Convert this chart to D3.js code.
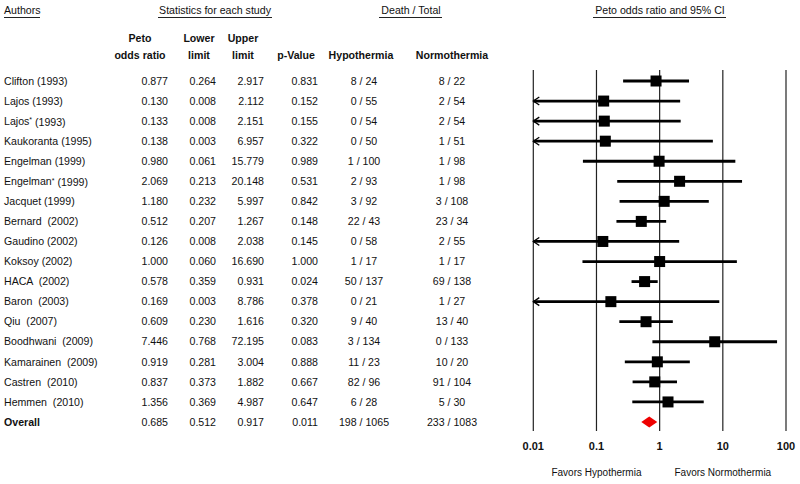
<!DOCTYPE html>
<html><head><meta charset="utf-8">
<script src="https://cdn.jsdelivr.net/npm/d3@7"></script>
<style>
body{margin:0;background:#fff;}
svg{font-family:"Liberation Sans",Arial,sans-serif;}
text{white-space:pre;fill:#111;}
</style></head><body>
<svg id="c" width="800" height="484"></svg>
<script>
const authors = ["Clifton (1993)","Lajos (1993)","Lajos* (1993)","Kaukoranta (1995)","Engelman (1999)","Engelman* (1999)","Jacquet (1999)","Bernard  (2002)","Gaudino (2002)","Koksoy (2002)","HACA  (2002)","Baron  (2003)","Qiu  (2007)","Boodhwani  (2009)","Kamarainen  (2009)","Castren  (2010)","Hemmen  (2010)","Overall"];
const oddsRatio = [0.877,0.130,0.133,0.138,0.980,2.069,1.180,0.512,0.126,1.000,0.578,0.169,0.609,7.446,0.919,0.837,1.356,0.685];
const lower = [0.264,0.008,0.008,0.003,0.061,0.213,0.232,0.207,0.008,0.060,0.359,0.003,0.230,0.768,0.281,0.373,0.369,0.512];
const upper = [2.917,2.112,2.151,6.957,15.779,20.148,5.997,1.267,2.038,16.690,0.931,8.786,1.616,72.195,3.004,1.882,4.987,0.917];
const pValue = [0.831,0.152,0.155,0.322,0.989,0.531,0.842,0.148,0.145,1.000,0.024,0.378,0.320,0.083,0.888,0.667,0.647,0.011];
const hypothermia = ["8 / 24","0 / 55","0 / 54","0 / 50","1 / 100","2 / 93","3 / 92","22 / 43","0 / 58","1 / 17","50 / 137","0 / 21","9 / 40","3 / 134","11 / 23","82 / 96","6 / 28","198 / 1065"];
const normothermia = ["8 / 22","2 / 54","2 / 54","1 / 51","1 / 98","1 / 98","3 / 108","23 / 34","2 / 55","1 / 17","69 / 138","1 / 27","13 / 40","0 / 133","10 / 20","91 / 104","5 / 30","233 / 1083"];
const tickValues = [0.01,0.1,1,10,100];
const tickLabels = ["0.01","0.1","1","10","100"];

const svg = d3.select("#c");
const x = d3.scaleLog().domain([0.01,100]).range([533.3,786]);
const y = d3.scalePoint().domain(d3.range(authors.length)).range([81,422]);
const fmt = d3.format(".3f");
const FS = 10.6;

// top headers
function header(txt, cx, anchor, x1, x2){
  svg.append("text").attr("x",cx).attr("y",10).attr("dy","0.35em").attr("text-anchor",anchor)
    .style("font-size",FS+"px").text(txt);
  svg.append("line").attr("x1",x1).attr("x2",x2).attr("y1",17.5).attr("y2",17.5).attr("stroke","#222").attr("stroke-width",1);
}
header("Authors",4,"start",4,40);
header("Statistics for each study",215,"middle",158,272);
header("Death / Total",411,"middle",379,442);
header("Peto odds ratio and 95% CI",660,"middle",593,726);

// column headers
const colHeads = [
  {l:["Peto","odds ratio"],x:140},
  {l:["Lower","limit"],x:199},
  {l:["Upper","limit"],x:243},
  {l:["","p-Value"],x:296},
  {l:["","Hypothermia"],x:361},
  {l:["","Normothermia"],x:452}
];
colHeads.forEach(h=>{
  h.l.forEach((t,i)=>{
    if(!t) return;
    svg.append("text").attr("x",h.x).attr("y",i?55:38).attr("dy","0.35em").attr("text-anchor","middle")
      .style("font-size",FS+"px").style("font-weight","bold").text(t);
  });
});

// rows
const rows = svg.append("g");
authors.forEach((a,i)=>{
  const yy = y(i);
  const bold = a==="Overall";
  const t = rows.append("text").attr("x",4).attr("y",yy).attr("dy","0.35em").style("font-size",FS+"px")
    .style("font-weight",bold?"bold":"normal");
  const parts = a.split("*");
  t.append("tspan").text(parts[0]);
  if(parts.length>1){
    t.append("tspan").attr("dy","-0.35em").style("font-size","7px").text("*");
    t.append("tspan").attr("dy","0.35em").text(parts[1]);
  }
  const cells = [
    [fmt(oddsRatio[i]),168,"end"],
    [fmt(lower[i]),216,"end"],
    [fmt(upper[i]),264,"end"],
    [fmt(pValue[i]),318,"end"],
    [hypothermia[i],364,"middle"],
    [normothermia[i],452,"middle"]
  ];
  cells.forEach(c=>{
    rows.append("text").attr("x",c[1]).attr("y",yy).attr("dy","0.35em").attr("text-anchor",c[2])
      .style("font-size",FS+"px").text(c[0]);
  });
});

// plot vertical lines
const plot = svg.append("g");
tickValues.forEach((v,i)=>{
  plot.append("line").attr("x1",x(v)).attr("x2",x(v)).attr("y1",70).attr("y2",431)
    .attr("stroke","#222").attr("stroke-width",1.2);
  plot.append("text").attr("x",x(v)).attr("y",446).attr("dy","0.35em").attr("text-anchor","middle")
    .style("font-size","11px").style("font-weight","bold").text(tickLabels[i]);
});
plot.append("text").attr("x",x(0.1)).attr("y",472).attr("dy","0.35em").attr("text-anchor","middle")
  .style("font-size","10px").text("Favors Hypothermia");
plot.append("text").attr("x",x(10)).attr("y",472).attr("dy","0.35em").attr("text-anchor","middle")
  .style("font-size","10px").text("Favors Normothermia");

// studies
const n = authors.length-1;
for(let i=0;i<n;i++){
  const yy = y(i);
  const lo = Math.max(lower[i],0.01), hi = Math.min(upper[i],100);
  plot.append("line").attr("x1",x(lo)).attr("x2",x(hi)).attr("y1",yy).attr("y2",yy)
    .attr("stroke","#000").attr("stroke-width",2.8);
  if(lower[i]<0.01){
    const ax = x(0.01);
    plot.append("path").attr("d",`M${ax+6},${yy-4}L${ax},${yy}L${ax+6},${yy+4}`)
      .attr("fill","none").attr("stroke","#000").attr("stroke-width",1.3);
  }
  const s=11;
  plot.append("rect").attr("x",x(oddsRatio[i])-s/2).attr("y",yy-s/2).attr("width",s).attr("height",s).attr("fill","#000");
}
// overall diamond
const oy = y(n);
plot.append("path").attr("d",`M${x(lower[n])},${oy}L${x(oddsRatio[n])},${oy-5.5}L${x(upper[n])},${oy}L${x(oddsRatio[n])},${oy+5.5}Z`)
  .attr("fill","#ee0000");
</script>
</body></html>
